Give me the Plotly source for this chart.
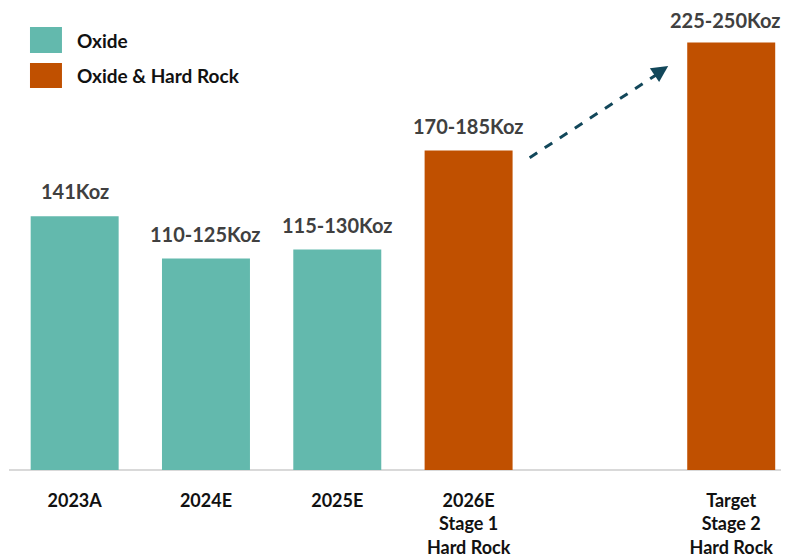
import plotly.graph_objects as go

positions = [0, 1, 2, 3, 5]
tick_labels = ["2023A", "2024E", "2025E", "2026E<br>Stage 1<br>Hard Rock", "Target<br>Stage 2<br>Hard Rock"]
oxide_x = [0, 1, 2]
oxide_vals = [141, 117.5, 122.5]
oxide_labels = ["141Koz", "110-125Koz", "115-130Koz"]
hard_x = [3, 5]
hard_vals = [177.5, 237.5]
hard_labels = ["170-185Koz", "225-250Koz"]
series_names = ["Oxide", "Oxide & Hard Rock"]

TEAL = "#63B9AD"
ORANGE = "#C05000"
FONT = "Lato"
ARROW = "#12475A"

fig = go.Figure()
fig.add_trace(go.Bar(x=oxide_x, y=oxide_vals, name=series_names[0],
                     marker=dict(color=TEAL, line=dict(width=0)), width=0.67))
fig.add_trace(go.Bar(x=hard_x, y=hard_vals, name=series_names[1],
                     marker=dict(color=ORANGE, line=dict(width=0)), width=0.67))

# value labels
for xs, vs, ls in [(oxide_x, oxide_vals, oxide_labels), (hard_x, hard_vals, hard_labels)]:
    for x, v, l in zip(xs, vs, ls):
        last = x == max(hard_x)
        fig.add_annotation(x=x, y=v, text=l, showarrow=False, yanchor="bottom",
                           yshift=9 if last else 12, xshift=-6 if last else 0, borderpad=0,
                           font=dict(family=FONT, size=20, color="#404040", weight="bold"))

# dashed arrow
fig.add_shape(type="line", x0=3.465, y0=173.5, x1=4.46, y1=221.0,
              line=dict(color=ARROW, width=3, dash="dash"))
fig.add_annotation(x=4.52, y=224.5, ax=4.42, ay=219.6, xref="x", yref="y", axref="x", ayref="y",
                   text="", showarrow=True, arrowhead=2, arrowsize=1.1, arrowwidth=3, arrowcolor=ARROW)

# custom legend (big swatches)
legend_colors = [TEAL, ORANGE]
sw = [(0.965, 0.9085), (0.8867, 0.8322)]
for name, col, (y1, y0) in zip(series_names, legend_colors, sw):
    fig.add_shape(type="rect", xref="paper", yref="paper", x0=0.0269, x1=0.0679, y0=y0, y1=y1,
                  fillcolor=col, line=dict(width=0))
    fig.add_annotation(xref="paper", yref="paper", x=0.0846, y=(y0 + y1) / 2, text=name,
                       showarrow=False, xanchor="left", yanchor="middle",
                       font=dict(family=FONT, size=19, color="#111111", weight="bold"))

fig.update_layout(
    width=789, height=557,
    margin=dict(l=1, r=8, t=3, b=95, autoexpand=False),
    plot_bgcolor="white", paper_bgcolor="white",
    barmode="overlay",
    showlegend=False,
    font=dict(family=FONT),
)
fig.update_xaxes(range=[-0.5, 5.44], tickmode="array", tickvals=positions, ticktext=tick_labels,
                 showgrid=False, zeroline=False, showline=False, ticks="", automargin=False,
                 ticklabelstandoff=18,
                 tickfont=dict(family=FONT, size=18, color="#111111", weight="bold"), fixedrange=True)
fig.update_yaxes(range=[0, 255], showgrid=False, zeroline=True, zerolinecolor="#D9D9D9", zerolinewidth=2,
                 showticklabels=False, showline=False, ticks="", automargin=False)

fig.write_html("out.html")
